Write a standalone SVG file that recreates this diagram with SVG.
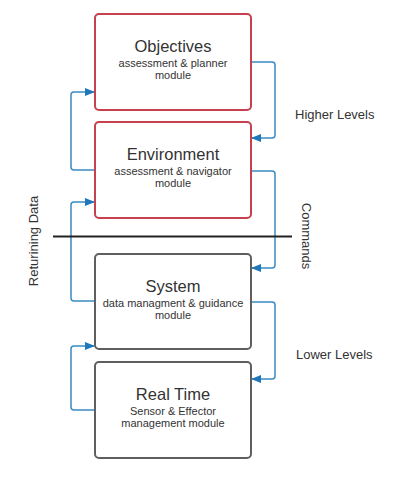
<svg xmlns="http://www.w3.org/2000/svg" width="402" height="486" viewBox="0 0 402 486">
<style>
.box{fill:#fff;stroke-width:2}
.red{stroke:#c7404d}
.gray{stroke:#5f5f5f}
.t{font-family:"Liberation Sans",Arial,sans-serif;fill:#333;text-anchor:middle}
.title{font-size:16.5px}
.sub{font-size:11px}
.lbl{font-family:"Liberation Sans",Arial,sans-serif;fill:#333;font-size:13px}
.c{fill:none;stroke:#3a8cc4;stroke-width:1.5;stroke-linejoin:round}
</style>
<defs>
<marker id="ah" markerWidth="10" markerHeight="8" refX="9" refY="4" orient="auto" markerUnits="userSpaceOnUse">
<path d="M0,0 L10,4 L0,8 Z" fill="#1f76b8"/>
</marker>
</defs>
<rect width="402" height="486" fill="#fff"/>
<g id="connectors">
<path class="c" d="M251,62 H272 Q275,62 275,65 V135 Q275,138 272,138 H252" marker-end="url(#ah)"/>
<path class="c" d="M251,171 H272 Q275,171 275,174 V265 Q275,268 272,268 H252" marker-end="url(#ah)"/>
<path class="c" d="M251,302 H272 Q275,302 275,305 V376 Q275,379 272,379 H252" marker-end="url(#ah)"/>
<path class="c" d="M95,170 H74 Q71,170 71,167 V95 Q71,92 74,92 H94" marker-end="url(#ah)"/>
<path class="c" d="M95,301 H74 Q71,301 71,298 V205 Q71,202 74,202 H94" marker-end="url(#ah)"/>
<path class="c" d="M95,410 H74 Q71,410 71,407 V349 Q71,346 74,346 H94" marker-end="url(#ah)"/>
<line x1="53" y1="236.5" x2="292" y2="236.5" stroke="#222" stroke-width="2"/>
</g>
<g id="objectives">
<rect class="box red" x="95" y="14" width="156" height="96" rx="4"/>
<text class="t title" x="173" y="52">Objectives</text>
<text class="t sub" x="173" y="67">assessment &amp; planner</text>
<text class="t sub" x="173" y="79">module</text>
</g>
<g id="environment">
<rect class="box red" x="95" y="122" width="156" height="96" rx="4"/>
<text class="t title" x="173" y="160">Environment</text>
<text class="t sub" x="173" y="175">assessment &amp; navigator</text>
<text class="t sub" x="173" y="187">module</text>
</g>
<g id="system">
<rect class="box gray" x="95" y="254" width="156" height="95" rx="4"/>
<text class="t title" x="173" y="292">System</text>
<text class="t sub" x="173" y="307">data managment &amp; guidance</text>
<text class="t sub" x="173" y="319">module</text>
</g>
<g id="realtime">
<rect class="box gray" x="95" y="362" width="156" height="96" rx="4"/>
<text class="t title" x="173" y="400">Real Time</text>
<text class="t sub" x="173" y="415">Sensor &amp; Effector</text>
<text class="t sub" x="173" y="427">management module</text>
</g>
<g id="labels">
<text class="lbl" x="295" y="119">Higher Levels</text>
<text class="lbl" x="296" y="359">Lower Levels</text>
<text class="lbl" text-anchor="middle" transform="translate(301.5,236) rotate(90)">Commands</text>
<text class="lbl" text-anchor="middle" transform="translate(38,241) rotate(-90)">Returining Data</text>
</g>
</svg>
